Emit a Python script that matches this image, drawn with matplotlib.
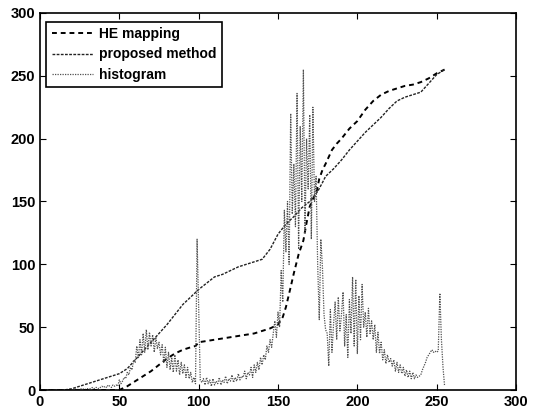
import matplotlib
matplotlib.use("Agg")
import matplotlib.pyplot as plt

plt.rcParams['font.family'] = ['Liberation Sans Narrow', 'Liberation Sans', 'DejaVu Sans']
plt.rcParams['font.weight'] = 'bold'

# HE mapping curve (keypoints)
he_x = [0, 50, 55, 60, 65, 70, 75, 80, 85, 90, 95, 98, 100, 105, 110, 115, 120, 125,
        130, 135, 140, 145, 150, 153, 155, 158, 160, 163, 166, 168, 170, 172, 174,
        176, 178, 180, 184, 187, 190, 195, 200, 205, 210, 215, 220, 225, 230, 235,
        240, 245, 250, 255]
he_y = [0, 0, 3, 7, 11, 15, 20, 25, 29, 32, 34, 35, 38, 39, 40, 41, 42, 43,
        44, 45, 47, 49, 52, 58, 66, 82, 93, 108, 119, 133, 146, 152, 156,
        168, 175, 180, 191, 196, 200, 208, 214, 223, 230, 235, 238, 240, 242, 243,
        245, 248, 252, 255]

# proposed method curve
prop_x = [0, 15, 20, 25, 30, 35, 40, 45, 50, 55, 60, 65, 70, 75, 80, 85, 90, 95,
          100, 105, 110, 115, 120, 125, 130, 135, 140, 145, 150, 155, 160, 165,
          170, 175, 178, 180, 185, 190, 195, 200, 205, 210, 215, 220, 225, 230,
          235, 240, 245, 250, 255]
prop_y = [0, 0, 1, 3, 5, 7, 9, 11, 13, 17, 24, 31, 38, 45, 52, 60, 68, 74,
          80, 85, 90, 92, 95, 98, 100, 102, 104, 112, 124, 132, 138, 145,
          150, 158, 165, 170, 176, 183, 191, 198, 205, 211, 217, 224, 230, 233,
          235, 237, 244, 251, 255]

# histogram counts, bins 0..255
hist = [0, 0, 0, 0, 0, 0, 0, 0, 0, 0, 0, 0, 0, 0, 0, 0,
        0, 0, 0, 0, 0, 0, 1, 0, 1, 0, 1, 1, 0, 1, 1, 1,
        1, 2, 1, 2, 2, 1, 2, 3, 2, 3, 2, 4, 3, 2, 4, 3,
        4, 3, 8, 5, 7, 10, 9, 14, 12, 18, 16, 24, 22, 35, 25, 40,
        28, 45, 30, 48, 32, 46, 35, 44, 30, 42, 33, 38, 28, 36, 22, 34,
        18, 30, 16, 26, 14, 28, 15, 24, 12, 22, 13, 20, 10, 18, 9, 14,
        6, 10, 5, 120, 66, 8, 6, 9, 4, 10, 5, 8, 3, 9, 4, 7,
        5, 10, 4, 8, 6, 11, 5, 9, 7, 12, 6, 10, 7, 13, 8, 11,
        10, 15, 9, 14, 12, 18, 10, 20, 14, 22, 16, 26, 20, 28, 24, 35,
        30, 40, 34, 45, 55, 42, 62, 50, 95, 70, 143, 110, 150, 100, 220, 140,
        180, 130, 236, 112, 210, 150, 255, 125, 200, 160, 219, 120, 225, 150, 170, 100,
        56, 120, 98, 60, 48, 45, 19, 64, 30, 52, 70, 40, 74, 47, 60, 78,
        35, 60, 26, 72, 45, 90, 35, 88, 29, 75, 40, 84, 50, 62, 42, 65,
        45, 55, 40, 52, 30, 46, 29, 38, 24, 32, 21, 28, 22, 25, 19, 24,
        15, 22, 14, 20, 13, 18, 11, 16, 10, 15, 9, 14, 9, 12, 10, 11,
        12, 16, 19, 22, 26, 28, 30, 32, 30, 31, 30, 31, 77, 40, 18, 3]

fig = plt.figure(figsize=(5.35, 4.12), dpi=100)
ax = fig.add_axes([40 / 535, 22 / 412, 476 / 535, 377 / 412])

ax.plot(he_x, he_y, color='black', linestyle=(0, (2.5, 2)), linewidth=1.4, label='HE mapping')
ax.plot(prop_x, prop_y, color='#222222', linestyle=(0, (2, 1)), linewidth=1.0, label='proposed method')
ax.plot(range(len(hist)), hist, color='#505050', linestyle=(0, (1, 1)), linewidth=0.9, label='histogram')

ax.set_xlim(0, 300)
ax.set_ylim(0, 300)
ax.set_xticks(range(0, 301, 50))
ax.set_yticks(range(0, 301, 50))
ax.tick_params(direction='in', top=True, right=True, length=4, labelsize=10.5)
for s in ax.spines.values():
    s.set_linewidth(1.2)

leg = ax.legend(loc='upper left', bbox_to_anchor=(0.013, 0.977), borderaxespad=0,
                fancybox=False, framealpha=1, edgecolor='black', fontsize=10,
                handlelength=3.0, handletextpad=0.4, labelspacing=0.45)
leg.get_frame().set_linewidth(1.2)

fig.savefig('out.png', dpi=100)
